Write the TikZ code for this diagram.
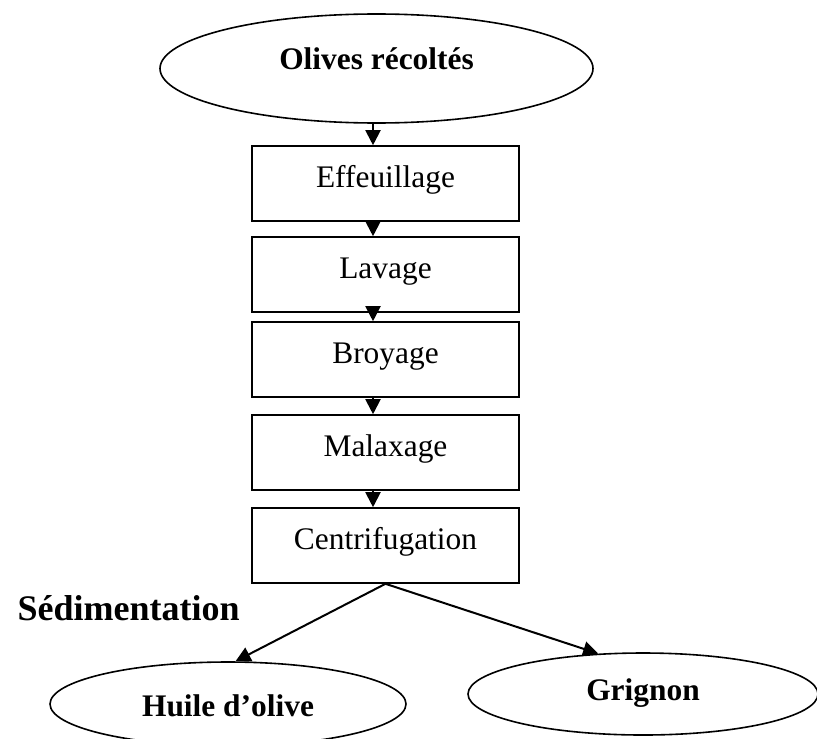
\documentclass[tikz,border=0pt]{standalone}
\usepackage{fontspec}
\setmainfont{Liberation Serif}
\usetikzlibrary{shapes.geometric,arrows.meta}
\begin{document}
\begin{tikzpicture}[x=0.5pt,y=-0.5pt,
  stepbox/.style={draw,line width=0.8pt,minimum width=133.5pt,minimum height=37.5pt,inner sep=0pt,
    font=\fontsize{15.7pt}{18pt}\selectfont,text height=11pt,text depth=7.5pt},
  oval/.style={draw,ellipse,line width=0.8pt,inner sep=0pt,
    font=\fontsize{15.7pt}{18pt}\selectfont\bfseries,text height=9pt,text depth=8pt},
  flow/.style={line width=1pt,-{Triangle[width=7.5pt,length=7.5pt]}}]
\useasboundingbox (0,0) rectangle (817,738);
\node[oval,minimum width=216.5pt,minimum height=54.5pt] (top) at (376.5,68.5) {Olives récoltés};
\node[stepbox] (b1) at (385.5,183.5) {Effeuillage};
\node[stepbox] (b2) at (385.5,274.5) {Lavage};
\node[stepbox] (b3) at (385.5,359.5) {Broyage};
\node[stepbox] (b4) at (385.5,452.5) {Malaxage};
\node[stepbox] (b5) at (385.5,545.5) {Centrifugation};
\node[font=\fontsize{18pt}{21pt}\selectfont\bfseries,anchor=base east,inner sep=0pt] (sed) at (240,620) {Sédimentation};
\node[oval,minimum width=178pt,minimum height=42pt,text height=15pt,text depth=3pt] (huile) at (228,704) {Huile d’olive};
\node[oval,minimum width=175pt,minimum height=41pt,text height=12pt,text depth=6pt] (grig) at (643,694) {Grignon};
\draw[flow] ([xshift=-1.75pt]top.south) -- ([xshift=-6.25pt]b1.north);
\draw[flow] ([xshift=-6.25pt]b1.south) -- ([xshift=-6.25pt]b2.north);
\draw[flow] ([xshift=-6.25pt]b2.south) -- ([xshift=-6.25pt]b3.north);
\draw[flow] ([xshift=-6.25pt]b3.south) -- ([xshift=-6.25pt]b4.north);
\draw[flow] ([xshift=-6.25pt]b4.south) -- ([xshift=-6.25pt]b5.north);
\draw[flow] (b5.south) -- (huile.80);
\draw[flow] (b5.south) -- (grig.138);
\end{tikzpicture}
\end{document}
